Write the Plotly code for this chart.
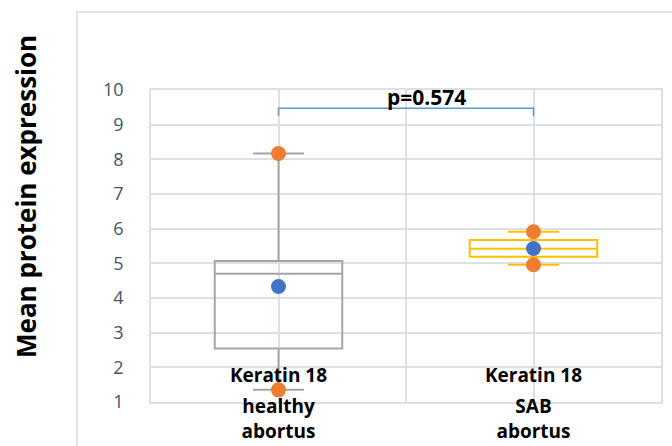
import plotly.graph_objects as go

# Summary statistics per group (Keratin 18 expression)
groups = ["Keratin 18<br>healthy<br>abortus", "Keratin 18<br>SAB<br>abortus"]
x_pos = [1, 3]
q1 = [2.54, 5.19]
median = [4.70, 5.42]
q3 = [5.07, 5.67]
lower = [1.35, 4.96]
upper = [8.17, 5.91]
mean = [4.33, 5.43]
box_colors = ["#A5A5A5", "#FFC000"]
p_label = "p=0.574"
y_ticks = [1, 2, 3, 4, 5, 6, 7, 8, 9, 10]

W, H = 672, 446
L, R, T = 151, 11, 90
BOTTOM_GAP = 44                     # space under the value axis, inside the full-height overlay
pw, ph = W - L - R, H - T
x_lo, x_hi = 0, 4
y_lo, y_hi = 1, 10
unit_px = (ph - BOTTOM_GAP) / (y_hi - y_lo)
y2_lo = y_lo - BOTTOM_GAP / unit_px  # overlay axis shares the pixel scale of the value axis


def py(pix):
    """Convert a vertical pixel offset from the top into paper coordinates."""
    return (H - pix) / ph


fig = go.Figure()

for i in range(len(groups)):
    fig.add_trace(go.Box(
        x=[x_pos[i]], q1=[q1[i]], median=[median[i]], q3=[q3[i]],
        lowerfence=[lower[i]], upperfence=[upper[i]],
        width=1.0, whiskerwidth=0.4, boxpoints=False,
        line=dict(color=box_colors[i], width=2),
        fillcolor="rgba(255,255,255,0)", showlegend=False, hoverinfo="skip",
        xaxis="x", yaxis="y",
    ))

# category labels drawn as text marks on the overlay axes, beneath the dots
line_y = [1.72, 0.83, 0.10]
lab_x, lab_y, lab_t = [], [], []
for xp, g in zip(x_pos, groups):
    for ly, part in zip(line_y, g.split("<br>")):
        lab_x.append(xp)
        lab_y.append(ly)
        lab_t.append(f"<b>{part}</b>")
fig.add_trace(go.Scatter(
    x=lab_x, y=lab_y, text=lab_t, mode="text", textposition="middle center",
    textfont=dict(family="Open Sans", size=19, color="#000000"),
    showlegend=False, hoverinfo="skip", xaxis="x2", yaxis="y2",
))

# min / max markers
fig.add_trace(go.Scatter(
    x=x_pos + x_pos, y=lower + upper, mode="markers",
    marker=dict(color="#ED7D31", size=15, line=dict(width=0)),
    showlegend=False, xaxis="x2", yaxis="y2",
))
# mean markers
fig.add_trace(go.Scatter(
    x=x_pos, y=mean, mode="markers",
    marker=dict(color="#4472C4", size=15, line=dict(width=0)),
    showlegend=False, xaxis="x2", yaxis="y2",
))

# significance bracket
fig.add_shape(type="path",
              path=f"M {x_pos[0]},9.25 L {x_pos[0]},9.47 L {x_pos[1]},9.47 L {x_pos[1]},9.25",
              xref="x", yref="y", line=dict(color="#5B9BD5", width=1.5))
fig.add_annotation(x=2.16, y=9.8, xref="x", yref="y", text=f"<b>{p_label}</b>",
                   showarrow=False, font=dict(family="Open Sans", size=21, color="#000000"))

# y axis title
fig.add_annotation(x=(26 - L) / pw, y=py(197), xref="paper", yref="paper",
                   xanchor="center", yanchor="middle",
                   text="<b>Mean protein expression</b>", textangle=-90, showarrow=False,
                   font=dict(family="Open Sans", size=26, color="#000000"))

# outer chart frame
fig.add_shape(type="rect", xref="paper", yref="paper", layer="below",
              x0=(77 - L) / pw, x1=(W + 20 - L) / pw,
              y0=py(H + 20), y1=py(12),
              line=dict(color="#D9DDE3", width=1.5), fillcolor="rgba(0,0,0,0)")

grid = "#DDE1E7"
fig.update_layout(
    width=W, height=H, margin=dict(l=L, r=R, t=T, b=0, autoexpand=False),
    paper_bgcolor="white", plot_bgcolor="rgba(0,0,0,0)", boxmode="overlay",
    xaxis=dict(range=[x_lo, x_hi], dtick=1, showgrid=True, gridcolor=grid, gridwidth=1.5,
               showticklabels=False, zeroline=False, showline=True, linecolor=grid,
               linewidth=1.5, mirror=True, fixedrange=True, anchor="y"),
    yaxis=dict(domain=[BOTTOM_GAP / ph, 1], range=[y_lo, y_hi], tickvals=y_ticks,
               showgrid=True, gridcolor=grid, gridwidth=1.5,
               zeroline=False, showline=True, linecolor=grid, linewidth=1.5, mirror=True,
               ticks="", ticklabelstandoff=22, anchor="x",
               tickfont=dict(family="Open Sans", size=18, color="#44546A"), fixedrange=True),
    xaxis2=dict(domain=[0, 1], range=[x_lo, x_hi], visible=False, anchor="y2",
                showgrid=False, zeroline=False, fixedrange=True),
    yaxis2=dict(domain=[0, 1], range=[y2_lo, y_hi], visible=False, anchor="x2",
                showgrid=False, zeroline=False, fixedrange=True),
)

fig.write_html("out.html")
